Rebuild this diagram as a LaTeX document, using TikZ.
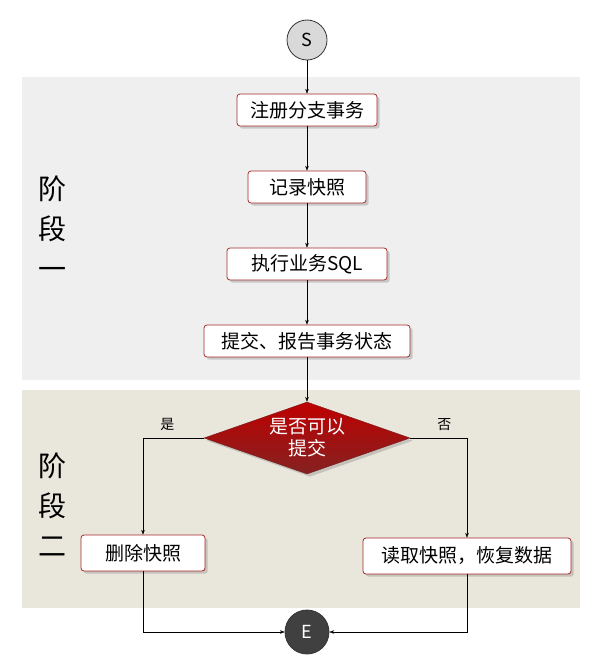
\documentclass[tikz,border=0pt]{standalone}
\usepackage{fontspec}
\setmainfont{Noto Sans CJK SC}
\usetikzlibrary{positioning,shapes.geometric,shadows,arrows.meta}
\definecolor{boxred}{HTML}{A52A2A}
\definecolor{panelA}{HTML}{EFEFEF}
\definecolor{panelB}{HTML}{E9E6DC}
\begin{document}
\begin{tikzpicture}[x=1pt, y=-1pt, >=Stealth,
  b/.style={draw=boxred, fill=white, rounded corners=3pt, thick, minimum height=32pt, font=\fontsize{19}{22}\selectfont, drop shadow={opacity=.35}},
  c/.style={circle, draw=black!80, thick, minimum size=40pt, font=\fontsize{18}{20}\selectfont},
  stage/.style={font=\fontsize{28}{40}\selectfont, align=center}]
	\useasboundingbox (0,0) rectangle (615,661);
	\fill[panelA] (22,77) rectangle (580,380);
	\fill[panelB] (22,390) rectangle (580,608);
	\node[stage] (P1) at (52,228) {阶\\段\\一};
	\node[stage] (P2) at (52,505) {阶\\段\\二};

	\node[c, fill=black!15] (S) at (307,40) {S};
	\node[b, minimum width=140pt] (A) at (307,110) {注册分支事务};
	\node[b, minimum width=118pt] (B) at (307,187) {记录快照};
	\node[b, minimum width=160pt] (C) at (307,264) {执行业务SQL};
	\node[b, minimum width=206pt] (D) at (307,341) {提交、报告事务状态};
	\node[diamond, aspect=2.9, inner sep=0pt, minimum width=206pt, minimum height=72pt, draw=boxred!70!black, top color=red!75!black, bottom color=boxred!80!black, text=white, align=center, font=\fontsize{19}{22}\selectfont, drop shadow={opacity=.35}] (Q) at (307,438) {是否可以\\提交};
	\node[b, minimum width=124pt, minimum height=36pt] (L) at (143,553) {删除快照};
	\node[b, minimum width=208pt, minimum height=36pt] (R) at (467,556) {读取快照，恢复数据};
	\node[c, fill=black!75, text=white, minimum size=44pt] (E) at (307,632) {E};

	\draw[->] (S) -- (A);
	\draw[->] (A) -- (B);
	\draw[->] (B) -- (C);
	\draw[->] (C) -- (D);
	\draw[->] (D) -- (Q);
	\draw[->] (Q.west) -| node[pos=.3, above=4pt, font=\fontsize{14}{16}\selectfont] {是} (L.north);
	\draw[->] (Q.east) -| node[pos=.3, above=4pt, font=\fontsize{14}{16}\selectfont] {否} (R.north);
	\draw[->] (L.south) |- (E.west);
	\draw[->] (R.south) |- (E.east);
\end{tikzpicture}
\end{document}
